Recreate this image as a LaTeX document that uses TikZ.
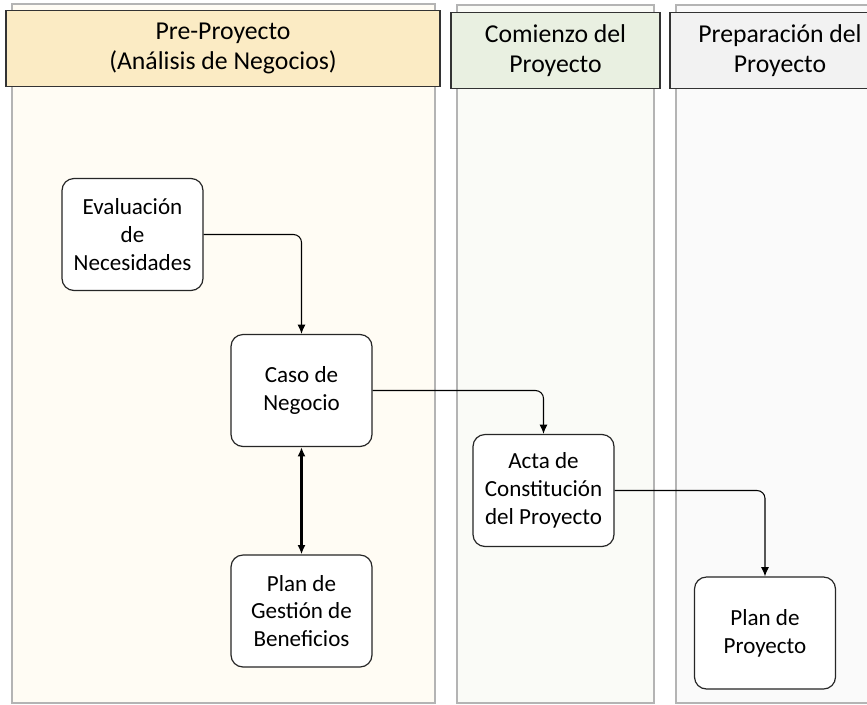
\documentclass[tikz,border=0pt]{standalone}
\usepackage{fontspec}
\setmainfont{Carlito}
\usetikzlibrary{arrows.meta}
\definecolor{carril}{HTML}{B4B4B4}
\definecolor{fondoA}{HTML}{FFFCF4}
\definecolor{fondoB}{HTML}{FAFBF7}
\definecolor{fondoC}{HTML}{FAFAFA}
\definecolor{cabA}{HTML}{FBEBC4}
\definecolor{cabB}{HTML}{E9F0E1}
\definecolor{cabC}{HTML}{F2F2F2}
\begin{document}
\begin{tikzpicture}[x=0.75pt,y=-0.75pt,
	etapa/.style={draw=black!85,rectangle,rounded corners=9pt,fill=white,line width=0.9pt,
		minimum width=105.75pt,minimum height=84pt,align=center,font=\fontsize{17.3}{20.8}\selectfont},
	cabecera/.style={draw=black!80,rectangle,line width=1pt,align=center,
		minimum height=57pt,font=\fontsize{19.3}{22.5}\selectfont},
	flecha/.style={line width=0.8pt,rounded corners=6pt,-{Latex[length=7pt,width=6pt]}}]
	\useasboundingbox (0,0) rectangle (867,704) ;
	\clip (0,0) rectangle (867,704) ;
	% carriles
	\draw[carril,fill=fondoA,line width=1.2pt] (12,4) rectangle (435,703) ;
	\draw[carril,fill=fondoB,line width=1.2pt] (457,5) rectangle (654,703) ;
	\draw[carril,fill=fondoC,line width=1.2pt] (676,5) rectangle (890,703) ;
	\node[cabecera,fill=cabA,minimum width=325.5pt] (PreProyecto) at (223,48.5) {Pre-Proyecto\\(Análisis de Negocios)} ;
	\node[cabecera,fill=cabB,minimum width=156.75pt] (Comienzo) at (555.5,50.5) {Comienzo del\\Proyecto} ;
	\node[cabecera,fill=cabC,minimum width=165pt] (Preparacion) at (780,50.5) {Preparación del\\Proyecto} ;
	% etapas
	\node[etapa] (Evaluacion) at (132.5,234.5) {Evaluación\\de\\Necesidades} ;
	\node[etapa] (Caso) at (301.5,390.5) {Caso de\\Negocio} ;
	\node[etapa] (Beneficios) at (301.5,611) {Plan de\\Gestión de\\Beneficios} ;
	\node[etapa] (Acta) at (543.5,490.5) {Acta de\\Constitución\\del Proyecto} ;
	\node[etapa] (PlanProyecto) at (765,633) {Plan de\\Proyecto} ;
	% flechas
	\draw[flecha] (Evaluacion.east) -| (Caso.north) ;
	\draw[flecha] (Caso.east) -| (Acta.north) ;
	\draw[flecha] (Acta.east) -| (PlanProyecto.north) ;
	\draw[line width=1.8pt,{Latex[length=7pt,width=6pt]}-{Latex[length=7pt,width=6pt]}] (Caso.south) -- (Beneficios.north) ;
\end{tikzpicture}
\end{document}
